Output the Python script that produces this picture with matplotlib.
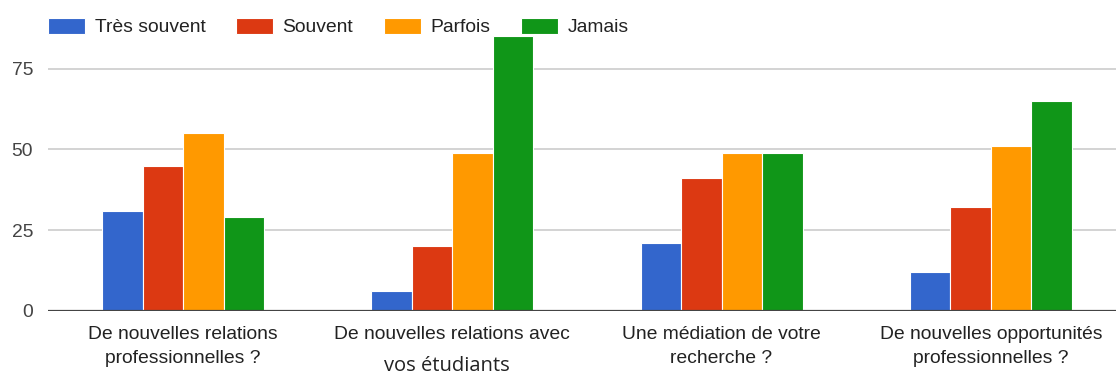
import numpy as np
import matplotlib.pyplot as plt

# survey answers per question
questions = ["De nouvelles relations\nprofessionnelles ?",
             "De nouvelles relations avec",
             "Une médiation de votre\nrecherche ?",
             "De nouvelles opportunités\nprofessionnelles ?"]
answers = ["Très souvent", "Souvent", "Parfois", "Jamais"]
tres_souvent = [31, 6, 21, 12]
souvent = [45, 20, 41, 32]
parfois = [55, 49, 49, 51]
jamais = [29, 85, 49, 65]
yticks = [0, 25, 50, 75]

colors = ["#3366CC", "#DC3912", "#FF9900", "#109618"]
series = [tres_souvent, souvent, parfois, jamais]

plt.rcParams['font.family'] = ['Liberation Sans', 'DejaVu Sans']
fs = 13.9

fig = plt.figure(figsize=(11.16, 3.74), dpi=100)
ax = fig.add_axes([0.0427, 0.1693, 0.9573, 0.8307])

x = np.arange(len(questions))
w = 0.1505
for i, (vals, c, name) in enumerate(zip(series, colors, answers)):
    ax.bar(x + (i - 1.5) * w, vals, w, color=c, edgecolor="white",
           linewidth=0.8, label=name, zorder=3)

ax.set_xlim(-0.503, 3.465)
ax.set_ylim(0, 96.3)
ax.set_yticks(yticks)
ax.yaxis.grid(True, color="#cccccc", linewidth=1.2, zorder=0)
ax.axhline(0, color="#444444", linewidth=1.6, zorder=4)
for s in ax.spines.values():
    s.set_visible(False)

ax.set_xticks(x)
ax.set_xticklabels(questions, fontsize=fs, color="#222222", linespacing=1.58)
ax.tick_params(axis="x", length=0, pad=11.0)
ax.tick_params(axis="y", length=0, pad=10.4, labelsize=fs, labelcolor="#444444")

# second line of the second question, typed in another font
fig.text(447 / 1116, 3 / 374, "vos étudiants", family="Open Sans",
         fontsize=14.5, color="#222222", ha="center", va="baseline")

fig.legend(loc="center left", bbox_to_anchor=(48.3 / 1116, 1 - 27 / 374),
           ncol=4, frameon=False, fontsize=fs, handlelength=1.92,
           handleheight=0.93, handletextpad=0.48, columnspacing=1.6,
           borderpad=0, borderaxespad=0, labelcolor="#222222")

fig.savefig("out.png", dpi=100)
